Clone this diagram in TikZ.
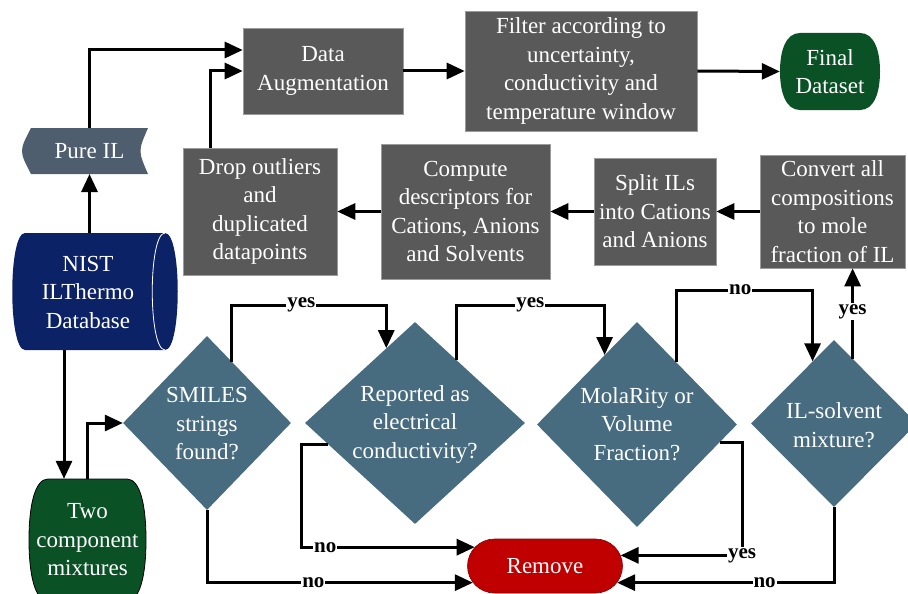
\documentclass[tikz,border=0pt]{standalone}
\usepackage{fontspec}
\setmainfont{Liberation Serif}
\newfontfamily\tnr{Liberation Serif}
\usetikzlibrary{shapes.geometric,shapes.misc,arrows.meta,calc}
\definecolor{boxgray}{HTML}{595959}
\definecolor{diaC}{HTML}{476B7F}
\definecolor{pureC}{HTML}{4E5E6F}
\definecolor{navyC}{HTML}{0C2266}
\definecolor{greenC}{HTML}{0A5226}
\definecolor{redC}{HTML}{C00000}
\tikzset{
  base/.style={text=white, font=\tnr\fontsize{23}{28.5}\selectfont, align=center, inner sep=0pt},
  gbox/.style={base, fill=boxgray, draw=boxgray!60!white, line width=0.6pt},
  dia/.style={diamond, fill=diaC, inner sep=0pt},
  arr/.style={line width=3pt, -{Triangle[length=18pt,width=16pt]}},
  lab/.style={fill=white, font=\tnr\fontsize{21}{21}\selectfont\bfseries, inner sep=1pt, text=black},
  anch/.style={inner sep=0pt, outer sep=0pt},
}
\begin{document}
\begin{tikzpicture}[x=1pt,y=-1pt]
\useasboundingbox (0,0) rectangle (908,594);
\clip (0,0) rectangle (908,594);

% top row
\node[gbox, minimum width=160, minimum height=86] (aug) at (323,71) {Data\\Augmentation};
\node[gbox, minimum width=232, minimum height=120] (filt) at (581,71) {Filter according to\\uncertainty,\\conductivity and\\temperature window};
\fill[greenC] (800,33) -- (860,33) .. controls (874,33) and (880,50) .. (880,71.5) .. controls (880,93) and (874,110) .. (860,110) -- (800,110) .. controls (786,110) and (780,93) .. (780,71.5) .. controls (780,50) and (786,33) .. (800,33) -- cycle;
\node[base, minimum width=100, minimum height=77] (final) at (830,71.5) {Final\\Dataset};

% second row
\node[gbox, minimum width=154, minimum height=127] (drop) at (260,211.5) {Drop outliers\\and\\duplicated\\datapoints};
\node[gbox, minimum width=169, minimum height=135] (comp) at (465.5,211.5) {Compute\\descriptors for\\Cations, Anions\\and Solvents};
\node[gbox, minimum width=122, minimum height=107] (split) at (655,211.5) {Split ILs\\into Cations\\and Anions};
\node[gbox, minimum width=145, minimum height=113] (conv) at (832.5,211.5) {Convert all\\compositions\\to mole\\fraction of IL};

% Pure IL
\node[anch, minimum width=117, minimum height=46] (pure) at (89.5,151) {};
\fill[pureC] (pure.north west) .. controls ([xshift=-12]pure.west) .. (pure.south west) -- (pure.south east) .. controls ([xshift=-10]pure.east) .. (pure.north east) -- cycle;
\node[base] (puretxt) at (pure) {Pure IL};

% NIST cylinder
\node[anch, minimum width=140, minimum height=117] (nist) at (95,291.5) {};
\fill[navyC] (nist.north west) .. controls ([xshift=-17]nist.north west) and ([xshift=-17]nist.south west) .. (nist.south west) -- (nist.south east) .. controls ([xshift=17]nist.south east) and ([xshift=17]nist.north east) .. (nist.north east) -- cycle;
\draw[white, line width=0.8pt] (nist.north east) .. controls ([xshift=-17]nist.north east) and ([xshift=-17]nist.south east) .. (nist.south east);
\node[base] (nisttxt) at (88,292) {NIST\\ILThermo\\Database};

% Two component mixtures
\filldraw[fill=greenC, draw=black, line width=0.8pt] (48,479) -- (127,479) .. controls (140,479) and (146,505) .. (146,540) .. controls (146,575) and (140,601) .. (127,601) -- (48,601) .. controls (35,601) and (29,575) .. (29,540) .. controls (29,505) and (35,479) .. (48,479) -- cycle;
\node[base, minimum width=117, minimum height=122] (two) at (87.5,540) {Two\\component\\mixtures};

% diamonds
\node[dia, minimum width=168, minimum height=174] (d1) at (207,423) {};
\node[base] (d1t) at (207,424) {SMILES\\strings\\found?};
\node[dia, minimum width=220, minimum height=202] (d2) at (415,423) {};
\node[base] (d2t) at (415,424) {Reported as\\electrical\\conductivity?};
\node[dia, minimum width=200, minimum height=205] (d3) at (637,424.5) {};
\node[base] (d3t) at (637,424) {MolaRity or\\Volume\\Fraction?};
\node[dia, minimum width=166, minimum height=167] (d4) at (834,423.5) {};
\node[base] (d4t) at (834,425) {IL-solvent\\mixture?};

% Remove
\node[rounded rectangle, base, fill=redC, draw=redC!70!black, line width=0.6pt, minimum width=155, minimum height=54] (rem) at (545,566) {Remove};

% coordinates for routing
\coordinate (ty) at (0,305);
\coordinate (tno) at (0,290);
\coordinate (xl) at (301,0);
\coordinate (xr) at (742,0);

% connectors: top part
\draw[arr] (pure.south |- nist.north) -- (pure.south);
\draw[arr] (pure.north) |- ([yshift=21pt]aug.west);
\draw[arr] ([xshift=-50pt]drop.north) |- (aug.west);
\draw[arr] (aug.east) -- (filt.west);
\draw[arr] (filt.east) -- (final.west);
\draw[arr] (conv.west) -- (split.east);
\draw[arr] (split.west) -- (comp.east);
\draw[arr] (comp.west) -- (drop.east);

% left side
\draw[arr] ([xshift=-31pt]nist.south) -- ([xshift=-31pt]nist.south |- two.north);
\draw[arr] (two.north) |- (d1.west);

% decisions
\draw[arr] (d1.68) -- (d1.68 |- ty) -- node[lab, pos=0.45]{yes} (d2.111 |- ty) -- (d2.111);
\draw[arr] (d2.57) -- (d2.57 |- ty) -- node[lab, pos=0.5]{yes} (d3.115 |- ty) -- (d3.115);
\draw[arr] (d3.58) -- (d3.58 |- tno) -- node[lab, pos=0.47]{no} (d4.109 |- tno) -- (d4.109);
\draw[arr] (d4.74) -- node[lab, pos=0.52]{yes} (d4.74 |- conv.south);

% to Remove
\draw[arr] (d2.194) -- (d2.194 -| xl) -- (xl |- rem.165) -- node[lab, pos=0.14]{no} (rem.165);
\draw[arr] (d1.south) -- (d1.south |- rem.193) -- node[lab, pos=0.4]{no} (rem.193);
\draw[arr] (d3.348) -- (d3.348 -| xr) -- (xr |- rem.8) node[lab]{yes} -- (rem.8);
\draw[arr] (d4.south) -- (d4.south |- rem.347) -- node[lab, pos=0.32]{no} (rem.347);
\end{tikzpicture}
\end{document}
